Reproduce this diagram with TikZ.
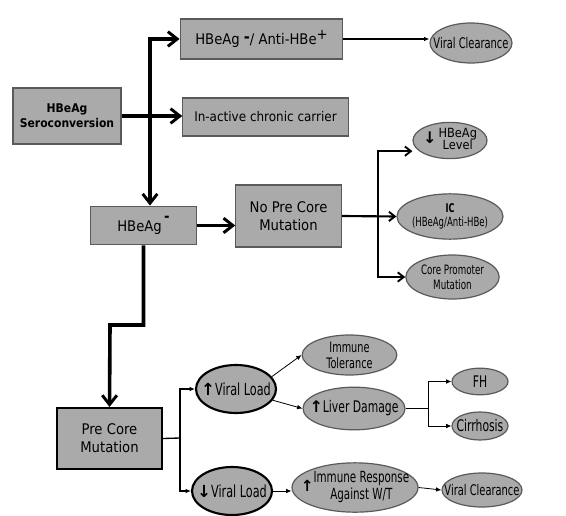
\documentclass[tikz,border=0pt]{standalone}
\usepackage{fontspec}
\setmainfont{DejaVu Sans Condensed}
\newfontfamily\narrowfont[FakeStretch=0.75]{DejaVu Sans Condensed}
\newfontfamily\arrowfont{DejaVu Sans}
\usetikzlibrary{shapes.geometric,arrows.meta}

\definecolor{boxgray}{RGB}{170,170,170}
\definecolor{edgegray}{RGB}{90,90,90}

\newcommand{\upmark}{{\arrowfont\bfseries ↑}}
\newcommand{\downmark}{{\arrowfont\bfseries ↓}}

\tikzset{every picture/.style={line width=0.75pt}}
\tikzset{
  stagebox/.style={rectangle, draw=edgegray, fill=boxgray, line width=0.9pt, align=center, inner sep=1pt},
  outcome/.style={ellipse, draw=edgegray, fill=boxgray, line width=0.9pt, align=center, inner xsep=-10pt, inner ysep=0pt},
  loadoval/.style={outcome, draw=black, line width=1.6pt},
  bigarrow/.style={line width=2.7pt, -{Straight Barb[length=7pt,width=11pt,line width=2.2pt]}},
  midarrow/.style={line width=1.6pt, -{Straight Barb[length=4.5pt,width=7pt,line width=1.4pt]}},
  thinarrow/.style={line width=1pt, -{Latex[length=4pt,width=3.5pt]}},
  hairarrow/.style={line width=0.6pt, -{Latex[length=4pt,width=3.5pt]}}
}

\begin{document}
\begin{tikzpicture}[x=0.75pt,y=0.75pt,yscale=-1,xscale=1]
\useasboundingbox (0,0) rectangle (566,516);

%Rectangle
\node [stagebox, minimum width=81pt, minimum height=42pt, font=\fontsize{9}{11}\selectfont\bfseries] (sero) at (67,116) {HBeAg\\Seroconversion};
%Rectangle
\node [stagebox, minimum width=122pt, minimum height=30pt, font=\fontsize{11}{13}\selectfont] (antihbe) at (261.5,39) {HBeAg \raisebox{2pt}{\bfseries\large -}/ Anti-HBe\raisebox{4pt}{+}};
%Rectangle
\node [stagebox, minimum width=124pt, minimum height=28.5pt, font=\fontsize{10}{12}\selectfont] (carrier) at (265.5,117) {In-active chronic carrier};
%Rectangle
\node [stagebox, minimum width=79pt, minimum height=29pt, font=\fontsize{11}{13}\selectfont] (hbeagneg) at (143.5,225.5) {HBeAg\,\raisebox{7pt}{\bfseries -}};
%Rectangle
\node [stagebox, minimum width=79pt, minimum height=46.5pt, font=\fontsize{11}{13.5}\selectfont] (noprecore) at (288.5,216) {No Pre Core\\Mutation};
%Rectangle
\node [stagebox, draw=black, line width=1.3pt, minimum width=79pt, minimum height=46pt, font=\fontsize{11}{13.5}\selectfont] (precore) at (109.5,438.5) {Pre Core\\Mutation};

%Ellipse
\node [outcome, minimum width=61.5pt, minimum height=30pt, font=\narrowfont\fontsize{11}{12}\selectfont] (vctop) at (471,43) {Viral Clearance};
%Ellipse
\node [outcome, minimum width=55.5pt, minimum height=23pt, font=\fontsize{9.5}{10}\selectfont] (hbeaglevel) at (450,140.5) {{\fontsize{12}{12}\selectfont\downmark}\,\begin{tabular}{@{}c@{}}HBeAg\\[-1pt]Level\end{tabular}};
%Ellipse
\node [outcome, minimum width=79.5pt, minimum height=34pt, font=\narrowfont\fontsize{9.5}{10}\selectfont] (ic) at (450,216.5) {{\fontsize{9}{10}\selectfont\bfseries IC}\\(HBeAg/Anti-HBe)};
%Ellipse
\node [outcome, minimum width=70pt, minimum height=33pt, font=\narrowfont\fontsize{9.7}{11}\selectfont] (corepromoter) at (452.5,277) {Core Promoter\\Mutation};

%Ellipse
\node [loadoval, minimum width=60pt, minimum height=36pt, font=\narrowfont\fontsize{12.5}{14}\selectfont] (vlup) at (236,389) {\upmark Viral Load};
%Ellipse
\node [loadoval, minimum width=60pt, minimum height=36pt, font=\narrowfont\fontsize{12.5}{14}\selectfont] (vldown) at (232,491) {\downmark Viral Load};
%Ellipse
\node [outcome, minimum width=71pt, minimum height=30pt, font=\narrowfont\fontsize{10.8}{12}\selectfont] (tolerance) at (349.5,355) {Immune\\Tolerance};
%Ellipse
\node [outcome, minimum width=76.5pt, minimum height=32pt, font=\narrowfont\fontsize{12}{13}\selectfont] (liverdamage) at (354,408.5) {\upmark Liver Damage};
%Ellipse
\node [outcome, minimum width=42pt, minimum height=20pt, font=\narrowfont\fontsize{12}{13}\selectfont] (fh) at (480,381.5) {FH};
%Ellipse
\node [outcome, minimum width=42pt, minimum height=21pt, font=\narrowfont\fontsize{12}{13}\selectfont] (cirrhosis) at (480,426) {Cirrhosis};
%Ellipse
\node [outcome, minimum width=94.5pt, minimum height=37pt, font=\narrowfont\fontsize{11.5}{12.5}\selectfont] (immuneresp) at (355,487.5) {\upmark\begin{tabular}{@{}c@{}}Immune Response\\Against W/T\end{tabular}};
%Ellipse
\node [outcome, minimum width=60pt, minimum height=25.5pt, font=\narrowfont\fontsize{11}{12}\selectfont] (vcbottom) at (482,490) {Viral Clearance};

%Branch points
\coordinate (split) at (150,116);
\coordinate (bend) at (110,325);
\coordinate (fork) at (378,216);
\coordinate (pcfork) at (180,438);
\coordinate (ldfork) at (428,408.5);

%Straight Lines
\draw [bigarrow] (sero.east) -- (sero.east -| carrier.west);
\draw [bigarrow] (split) |- (antihbe.west);
\draw [bigarrow] (split) -- (split |- hbeagneg.north);
\draw [bigarrow] (hbeagneg.east) -- (hbeagneg.east -| noprecore.west);
\draw [bigarrow] (hbeagneg.south) |- (bend) -- (precore.north);

%Straight Lines
\draw [thinarrow] (antihbe.east) -- (antihbe.east -| vctop.west);

%Straight Lines
\draw [midarrow] (noprecore.east) -- (ic.west);
\draw [midarrow] (fork) |- ([yshift=8pt]hbeaglevel.west);
\draw [midarrow] (fork) |- (corepromoter.west);

%Straight Lines
\draw [line width=1pt] (precore.east) -- (pcfork);
\draw [thinarrow] (pcfork) |- (vlup.west);
\draw [thinarrow] (pcfork) |- (vldown.west);

%Straight Lines
\draw [hairarrow] (vlup.19) -- (tolerance.west);
\draw [hairarrow] (vlup.-17) -- (liverdamage.west);
\draw [line width=0.6pt] (liverdamage.east) -- (ldfork);
\draw [hairarrow] (ldfork) |- (fh.west);
\draw [hairarrow] (ldfork) |- (cirrhosis.west);
\draw [hairarrow] (vldown.east) -- (vldown.east -| immuneresp.west);
\draw [hairarrow] (immuneresp.east) -- (vcbottom.west);

\end{tikzpicture}
\end{document}
